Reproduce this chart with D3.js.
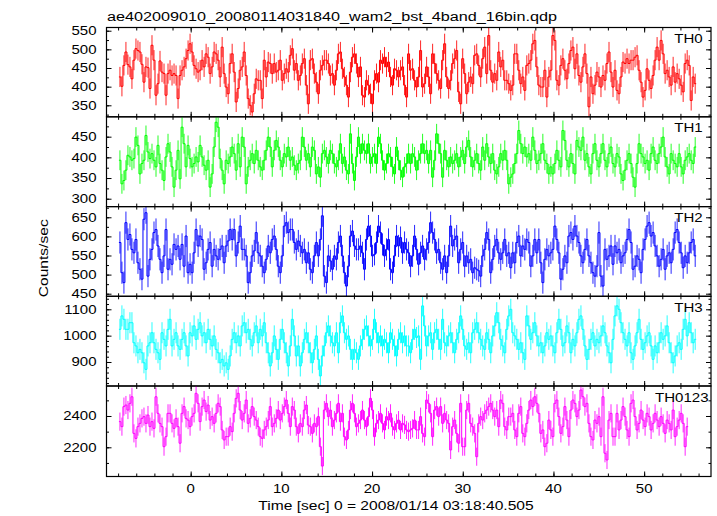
<!DOCTYPE html>
<html><head><meta charset="utf-8">
<script src="https://cdn.jsdelivr.net/npm/d3@7"></script>
<style>html,body{margin:0;padding:0;background:#fff}</style>
</head><body>
<svg id="chart" width="717" height="516"></svg>
<script>
const titleText = "ae402009010_20080114031840_wam2_bst_4band_16bin.qdp";
const xLabel = "Time [sec] 0 = 2008/01/14 03:18:40.505";
const yLabel = "Counts/sec";
const panelNames = ["TH0", "TH1", "TH2", "TH3", "TH0123"];
const panelColors = ["#ff0000", "#00ff00", "#0000ff", "#00ffff", "#ff00ff"];
const tStart = -7.8, binSec = 0.221;
const xTickValues = [0, 10, 20, 30, 40, 50];
const errHalf = [27, 24, 29, 40, 58];
const yDomains = [[319.2, 558.6], [280.9, 498.1], [443.2, 678], [808.9, 1149.3], [2013.4, 2591.7]];
const yMajorTicks = [[350, 400, 450, 500, 550], [300, 350, 400, 450], [450, 500, 550, 600, 650], [900, 1000, 1100], [2200, 2400]];
const yLabelTicks = yMajorTicks;
const yMinorStep = [25, 25, 25, 20, 100];

const th0 = [
426,401,457,493,459,453,421,471,502,497,493,460,412,453,451,395,
511,471,377,408,469,439,435,377,435,444,430,435,430,368,430,444,
453,475,497,515,493,457,448,439,444,471,453,488,479,435,453,493,
488,471,426,506,435,399,381,462,488,439,359,395,444,453,493,430,
368,350,332,381,421,417,417,368,471,426,466,462,435,462,439,444,
471,417,435,448,439,484,502,444,462,417,430,462,475,404,354,471,
475,435,412,381,444,457,471,471,462,430,435,404,444,488,493,448,
426,404,372,439,479,488,462,426,453,377,372,417,404,381,354,417,
435,412,471,462,479,453,466,426,404,448,444,426,444,453,404,372,
488,444,448,417,399,426,497,399,408,453,426,381,488,462,435,417,
395,471,515,426,395,417,462,475,497,386,354,475,435,381,412,426,
408,484,488,457,426,475,506,435,537,444,412,435,417,493,453,471,
417,417,408,390,404,488,488,444,408,426,390,457,462,471,515,524,
453,404,399,399,444,372,426,444,537,524,417,404,457,475,444,421,
462,497,506,448,488,430,412,453,488,435,346,426,381,404,439,426,
399,430,417,462,493,439,399,444,390,381,426,466,462,475,462,471,
471,479,484,444,412,372,390,448,417,395,430,471,506,471,524,488,
435,444,426,404,453,412,435,421,404,386,462,471,457,363,426,408];

const th1 = [
393,336,344,369,405,401,393,397,449,429,360,385,393,453,413,397,
409,393,377,429,385,369,344,401,433,413,377,328,369,417,348,473,
433,377,429,397,377,385,401,389,429,401,381,369,393,328,360,425,
485,473,397,369,336,393,385,401,425,409,369,433,377,449,425,336,
377,393,409,385,417,393,377,369,393,417,449,425,377,417,441,425,
393,377,409,401,425,393,401,381,369,385,393,449,425,393,409,377,
425,417,360,377,352,409,417,401,385,417,409,385,377,393,433,385,
401,369,360,457,385,344,401,449,409,433,417,409,433,385,401,409,
385,449,433,393,369,385,409,401,377,360,425,393,369,352,377,385,
409,385,409,401,369,393,409,433,409,417,385,417,352,393,457,433,
409,352,417,393,377,401,385,393,409,377,401,417,385,425,441,401,
377,393,409,385,369,425,393,433,401,385,409,369,360,377,409,393,
417,393,336,352,360,385,409,465,433,409,425,401,409,393,449,417,
385,393,409,433,393,385,360,377,360,385,417,393,377,465,441,393,
377,409,385,360,441,425,417,449,393,409,377,360,409,433,393,377,
409,433,393,377,409,425,385,377,409,401,360,344,369,393,409,385,
352,328,385,433,409,401,385,393,369,409,425,393,385,409,425,449,
401,377,360,409,393,385,377,409,377,360,393,401,409,393,385,425];

const th2 = [
584,505,479,636,592,605,566,557,592,531,514,488,645,662,496,540,
566,610,618,575,540,505,549,618,514,540,527,579,566,575,540,579,
522,601,505,527,505,557,618,575,601,592,514,531,566,584,522,566,
549,540,566,575,531,575,588,618,592,618,549,584,627,566,566,549,
479,505,549,562,610,557,549,522,505,540,575,557,592,601,566,522,
505,549,627,636,610,618,618,584,566,588,575,557,566,531,557,514,
505,549,584,549,592,654,496,479,549,536,514,549,540,584,601,549,
505,470,522,601,614,575,566,566,575,557,514,592,627,601,549,553,
584,627,610,579,549,566,592,514,505,549,601,575,597,557,584,566,
557,522,549,601,566,527,557,575,540,566,584,636,610,592,557,566,
531,514,549,505,549,627,575,592,601,531,566,584,522,549,531,540,
505,518,514,510,496,549,566,610,592,505,540,575,592,557,540,557,
592,549,557,518,557,531,584,601,549,575,566,592,584,522,549,592,
557,592,531,479,540,566,549,557,566,627,592,557,488,514,549,531,
601,610,592,627,601,584,549,531,566,592,549,531,505,496,522,610,
496,470,566,540,549,575,527,575,557,566,531,549,557,592,618,584,
514,522,549,540,505,566,592,627,636,601,610,575,549,522,540,566,
514,549,557,531,566,610,618,584,557,518,549,531,557,584,592,549];

const th3 = [
1024,1075,1062,1024,1024,1049,1049,973,961,935,948,935,897,872,961,973,
1011,973,948,935,910,1011,986,961,1024,1062,961,986,1011,961,948,986,
1011,961,923,1011,999,1037,986,1024,1049,999,1011,973,1024,986,961,999,
948,935,897,910,885,897,872,923,986,1011,973,999,961,1037,1049,1011,
1024,986,961,1011,1037,973,1024,999,1049,973,935,885,935,999,948,910,
986,1024,973,935,885,961,1062,999,923,961,885,935,986,1011,973,935,
897,948,999,910,847,923,961,1011,1037,999,973,961,1011,935,1049,1075,
1011,986,999,948,910,948,935,910,961,986,1024,1037,999,961,986,1062,
1011,973,999,961,986,973,935,1011,986,961,923,986,1011,973,999,961,
961,935,986,1024,993,999,910,1113,1037,961,999,1011,948,1011,1024,986,
948,1062,973,961,999,1011,973,935,986,1011,1075,1024,961,948,973,935,
1011,1024,1049,1011,986,961,948,1011,986,935,999,1037,1087,1049,986,961,
935,1024,1075,1100,1011,999,986,948,973,935,910,1075,1037,986,1011,1049,
999,961,973,935,961,1011,986,999,961,935,1011,1062,1024,961,973,1037,
1011,935,986,961,1011,1062,1075,1024,961,910,948,986,1011,961,986,973,
999,1037,1011,961,935,897,986,1075,1113,1100,1049,1011,986,961,1011,935,
910,961,1011,1062,986,948,973,999,1011,961,910,961,935,973,1011,986,
999,1037,973,935,897,923,961,973,948,1024,1062,999,1049,1011,973,986];

const th0123 = [
2364,2332,2460,2470,2438,2481,2523,2289,2257,2332,2353,2385,2396,2353,2406,2332,
2364,2321,2523,2417,2353,2332,2204,2268,2417,2417,2353,2321,2385,2332,2226,2417,
2460,2385,2374,2332,2396,2417,2545,2481,2364,2460,2502,2428,2470,2374,2396,2353,
2417,2481,2460,2311,2247,2268,2268,2332,2300,2417,2513,2545,2438,2374,2417,2502,
2353,2385,2460,2396,2374,2332,2268,2257,2311,2332,2374,2460,2332,2353,2385,2438,
2374,2417,2460,2502,2417,2332,2460,2438,2332,2289,2353,2332,2438,2470,2342,2332,
2289,2353,2332,2396,2204,2080,2438,2481,2396,2438,2332,2374,2417,2481,2364,2417,
2268,2247,2311,2438,2481,2417,2332,2353,2374,2438,2374,2332,2396,2513,2438,2268,
2353,2374,2417,2353,2311,2396,2374,2417,2332,2311,2353,2374,2311,
2353,2343,2311,2300,2311,2321,2374,2311,2311,2396,2289,2268,2502,2481,2417,2268,
2438,2460,2396,2460,2353,2417,2374,2353,2183,2332,2374,2289,2226,2481,2204,2204,
2438,2481,2353,2332,2289,2140,2353,2396,2374,2417,2438,2460,2481,2438,2396,2438,
2332,2502,2481,2332,2311,2396,2396,2417,2311,2268,2417,2460,2289,2268,2353,2438,
2502,2460,2523,2481,2417,2289,2311,2204,2226,2374,2311,2268,2481,2502,2396,2289,
2332,2460,2374,2268,2438,2502,2481,2396,2438,2566,2523,2460,2481,2353,2268,2247,
2374,2353,2396,2268,2523,2162,2119,2374,2417,2268,2268,2417,2311,2374,2460,2396,
2311,2268,2481,2502,2396,2311,2353,2438,2374,2332,2417,2396,2311,2353,2417,2374,
2332,2396,2353,2289,2374,2353,2311,2438,2268,2332,2374,2417,2353,2204,2332];

const seriesList = [th0, th1, th2, th3, th0123];

// ---- layout ----
const left = 106.5, right = 711;
const bounds = [27.5, 116.8, 206.6, 296.3, 386.0, 476.5];
const FONT = "'Liberation Sans', Arial, Helvetica, sans-serif";

const svg = d3.select("#chart");
const x = d3.scaleLinear().domain([-9.28, 57.37]).range([left, right]);

function txt(xp, yp, str, opt) {
  opt = opt || {};
  const sx = opt.sx || 1.18;
  const rot = opt.rot || 0;
  return svg.append("text")
    .attr("transform", `translate(${xp},${yp}) rotate(${rot}) scale(${sx},1)`)
    .attr("text-anchor", opt.anchor || "start")
    .attr("font-family", FONT)
    .attr("font-size", (opt.size || 13) + "px")
    .attr("fill", "#000")
    .text(str);
}

const defs = svg.append("defs");
const xMinor = d3.range(-8, 57.37, 2);

seriesList.forEach((vals, p) => {
  const top = bounds[p], bot = bounds[p + 1];
  const y = d3.scaleLinear().domain(yDomains[p]).range([bot, top]);
  defs.append("clipPath").attr("id", "clip" + p)
    .append("rect").attr("x", left).attr("y", top).attr("width", right - left).attr("height", bot - top);

  const pts = vals.map((v, i) => ({ t: tStart + i * binSec, v: v }));
  const e = errHalf[p];
  const half = binSec / 2;
  const g = svg.append("g").attr("clip-path", `url(#clip${p})`);
  const col = panelColors[p];
  // step line through bin edges
  let d = "";
  pts.forEach((pt, i) => {
    const x0 = x(pt.t - half), x1 = x(pt.t + half), yy = y(pt.v);
    d += (i === 0 ? `M${x0},${yy}` : `V${yy}`) + `H${x1}`;
  });
  g.append("path").attr("d", d)
    .attr("stroke", col).attr("stroke-width", 1).attr("fill", "none")
    .attr("stroke-linejoin", "miter");
  // vertical error bars
  g.append("path")
    .attr("d", pts.map(pt => `M${x(pt.t)},${y(pt.v - e)}V${y(pt.v + e)}`).join(""))
    .attr("stroke", col).attr("stroke-width", 1).attr("fill", "none")
    .attr("stroke-opacity", 0.85);

  // axes (inward ticks on all four sides)
  const ax = svg.append("g").attr("class", "axes");
  const mk = (sel) => sel.call(s => s.select(".domain").remove())
    .call(s => s.selectAll("line").attr("stroke", "#000").attr("stroke-width", 1))
    .call(s => s.selectAll("text").remove());
  ax.append("g").attr("transform", `translate(0,${bot})`)
    .call(d3.axisTop(x).tickValues(xTickValues).tickSize(5).tickFormat("")).call(mk);
  ax.append("g").attr("transform", `translate(0,${bot})`)
    .call(d3.axisTop(x).tickValues(xMinor).tickSize(3).tickFormat("")).call(mk);
  ax.append("g").attr("transform", `translate(0,${top})`)
    .call(d3.axisBottom(x).tickValues(xTickValues).tickSize(5).tickFormat("")).call(mk);
  ax.append("g").attr("transform", `translate(0,${top})`)
    .call(d3.axisBottom(x).tickValues(xMinor).tickSize(3).tickFormat("")).call(mk);

  const step = yMinorStep[p];
  const dom = yDomains[p];
  const yMinor = d3.range(Math.ceil(dom[0] / step) * step, dom[1], step);
  ax.append("g").attr("transform", `translate(${left},0)`)
    .call(d3.axisRight(y).tickValues(yMajorTicks[p]).tickSize(5).tickFormat("")).call(mk);
  ax.append("g").attr("transform", `translate(${left},0)`)
    .call(d3.axisRight(y).tickValues(yMinor).tickSize(2.5).tickFormat("")).call(mk);
  ax.append("g").attr("transform", `translate(${right},0)`)
    .call(d3.axisLeft(y).tickValues(yMajorTicks[p]).tickSize(5).tickFormat("")).call(mk);
  ax.append("g").attr("transform", `translate(${right},0)`)
    .call(d3.axisLeft(y).tickValues(yMinor).tickSize(2.5).tickFormat("")).call(mk);

  // frame
  svg.append("rect").attr("x", left).attr("y", top).attr("width", right - left).attr("height", bot - top)
    .attr("fill", "none").attr("stroke", "#000").attr("stroke-width", 1.2);

  // y tick labels
  yLabelTicks[p].forEach(v => {
    txt(96.5, y(v) + 4.3, String(v), { anchor: "end", size: 12.5, sx: 1.2 });
  });

  // panel label
  if (p < 4) txt(702.7, top + 15.5, panelNames[p], { anchor: "end", size: 13, sx: 1.16 });
  else txt(655, top + 15.5, panelNames[p], { anchor: "start", size: 13, sx: 1.16 });
});

// x tick labels
xTickValues.forEach(t => txt(x(t), 492.7, String(t), { anchor: "middle", size: 12.5, sx: 1.2 }));

// titles
txt(107, 20.5, titleText, { size: 13.5, sx: 1.2 });
txt(396, 510, xLabel, { anchor: "middle", size: 13, sx: 1.2 });
txt(47.5, 258.3, yLabel, { anchor: "middle", size: 13, sx: 1.2, rot: -90 });
</script>
</body></html>
